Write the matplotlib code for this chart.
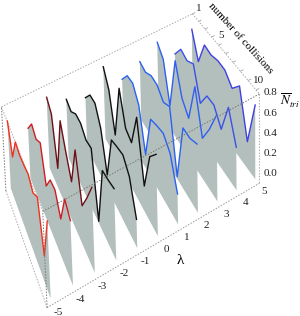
import numpy as np
import matplotlib
matplotlib.use("Agg")
import matplotlib.pyplot as plt
from mpl_toolkits.mplot3d.art3d import Poly3DCollection

plt.rcParams['font.family'] = ['Liberation Serif', 'DejaVu Sans']
plt.rcParams['mathtext.fontset'] = 'stix'

lams = [-5, -4, -3, -2, -1, 0, 1, 2, 3, 4, 5]
n_grid = [1, 2, 3, 4, 5, 6, 7, 8, 9, 10]
colors = ['#f0301e', '#cc1e22', '#6e1018', '#111111', '#111111', '#111111',
          '#2a62f0', '#2a62f0', '#3060f0', '#3a50e8', '#4040e0']

N_m5 = [0.708, 0.439, 0.698, 0.672, 0.681, 0.702, 0.631, 0.707, 0.272, 0.718]
N_m4 = [0.529, 0.675, 0.62, 0.689, 0.364, 0.535, 0.549, 0.386, 0.691, 0.607]
N_m3 = [0.753, 0.676, 0.214, 0.806, 0.596, 0.408, 0.827, 0.4, 0.589, 0.802]
N_m2 = [0.631, 0.598, 0.673, 0.677, 0.61, 0.632, 0.016, 0.629, 0.649, 0.679]
N_m1 = [0.548, 0.672, 0.682, 0.522, 0.147, 0.609, 0.644, 0.672, 0.571, 0.277]
N_0 = [0.781, 0.625, 0.246, 0.832, 0.52, 0.477, 0.832, 0.259, 0.655, 0.784]
N_1 = [0.548, 0.679, 0.691, 0.559, 0.146, 0.61, 0.646, 0.672, 0.581, 0.296]
N_2 = [0.642, 0.618, 0.673, 0.668, 0.584, 0.636, 0.023, 0.621, 0.622, 0.67]
N_3 = [0.758, 0.661, 0.252, 0.825, 0.525, 0.415, 0.834, 0.414, 0.606, 0.845]
N_4 = [0.535, 0.674, 0.639, 0.694, 0.371, 0.544, 0.548, 0.4, 0.72, 0.427]
N_5 = [0.714, 0.443, 0.713, 0.693, 0.722, 0.715, 0.619, 0.737, 0.273, 0.739]
curves = [N_m5, N_m4, N_m3, N_m2, N_m1, N_0, N_1, N_2, N_3, N_4, N_5]

z_ticks = [0.0, 0.2, 0.4, 0.6, 0.8]

lam0, lam1 = -5.25, 5.05
n0, n1 = 1.0, 10.4
z0, z1 = 0.0, 0.88

# camera: box corners and sheet tips, as they sit in the 300x316 picture
cal_3d = [(lam0,n1,z0),(lam1,n1,z0),(lam0,n0,z0),(lam0,n0,z1),(lam1,n0,z1),(lam1,n1,z1),(lam0,n1,z1),
          (-5,10,0),(-4,10,0),(-3,10,0),(-2,10,0),(-1,10,0),(0,10,0),(1,10,0),(2,10,0),(3,10,0),(4,10,0),(5,10,0),(-5,1,0)]
cal_px = [(47,306),(257,185),(6,190),(1,108),(193,14),(259,93),(43,211),
          (50,298),(73,285),(95,275),(117,262),(138,250),(158,236),(178,223),(198,213),(218,201),(237,190),(256,178),(10.5,188)]


def fit_camera(pts3, pts2):
    rows, rhs = [], []
    for (X, Y, Z), (u, v) in zip(pts3, pts2):
        rows.append([X, Y, Z, 1, 0, 0, 0, 0, -u*X, -u*Y, -u*Z])
        rhs.append(u)
        rows.append([0, 0, 0, 0, X, Y, Z, 1, -v*X, -v*Y, -v*Z])
        rhs.append(v)
    p = np.linalg.lstsq(np.array(rows), np.array(rhs), rcond=None)[0]
    return np.append(p, 1).reshape(3, 4)


P_px = fit_camera(cal_3d, cal_px)


def to_px(lam, n, z):
    w = P_px @ np.array([lam, n, z, 1])
    return w[0]/w[2], w[1]/w[2]


fig = plt.figure(figsize=(3, 3.16), dpi=100)
ax = fig.add_axes([-8/300, 0, 316/300, 1], projection='3d', computed_zorder=False)
ax.set_axis_off()

# far sheets first, so nearer sheets hide the curves behind them
for i, lam in enumerate(lams):
    base = 2*(len(lams)-i)
    verts = [(lam, n_grid[0], 0)] + [(lam, a, b) for a, b in zip(n_grid, curves[i])] + [(lam, n_grid[-1], 0)]
    ax.add_collection3d(Poly3DCollection([verts], facecolors='#b3bfbc', edgecolors='none', zorder=base))
    ax.plot([lam]*len(n_grid), n_grid, curves[i], color=colors[i], lw=1.0, zorder=base+1)

dots = (0, (1.5, 1.5))
for a, b, col, zo in [((lam0,n0,z0),(lam0,n1,z0),'#aaaaaa',0), ((lam0,n1,z0),(lam1,n1,z0),'#999999',50),
                      ((lam0,n0,z0),(lam0,n0,z1),'#777777',0), ((lam0,n0,z1),(lam1,n0,z1),'#aaaaaa',0),
                      ((lam1,n0,z1),(lam1,n1,z1),'#aaaaaa',0), ((lam1,n1,z0),(lam1,n1,z1),'#aaaaaa',50),
                      ((lam0,n1,z1),(lam1,n1,z1),'#777777',50), ((lam0,n0,z1),(lam0,n1,z1),'#aaaaaa',0),
                      ((lam0,n1,z0),(lam0,n1,z1),'#777777',50)]:
    ax.plot(*zip(a, b), color=col, lw=0.7, ls=dots, zorder=zo)
for n in n_grid:
    ax.plot([lam1, lam1+0.15], [n, n], [z1, z1], color='#999999', lw=0.5, zorder=1)

ax.apply_aspect()
cal_t = ax.transData.inverted().transform([(x, 316-y) for x, y in cal_px])
P = fit_camera(cal_3d, cal_t)
M = np.vstack([P[0], P[1], [1, 0, 0, -10], P[2]])
ax.get_proj = lambda: M


def label(x, y, s, **kw):
    fig.text(x/300, 1-y/316, s, ha='center', va='center', **kw)


for lam in lams:
    x, y = to_px(lam, n1, 0)
    label(x+5.5, y+8, str(lam), fontsize=8, color='#222222')
for v in z_ticks:
    x, y = to_px(lam1, n1, v)
    label(x+11, y-9.7, f'{v:.1f}', fontsize=8, color='#222222')
for a, dx, dy in [(1, 6, -5), (5, 2, -10), (10, 2, -10)]:
    x, y = to_px(lam1, a, z1)
    label(x+dx, y+dy, str(a), fontsize=8, color='#222222')

label(241, 38, 'number of collisions', fontsize=8, rotation=-48, rotation_mode='anchor')
label(180, 260, 'λ', fontsize=11)
label(290, 101, r'$\overline{N}_{tri}$', fontsize=9.5)

fig.savefig('out.png', dpi=100)
